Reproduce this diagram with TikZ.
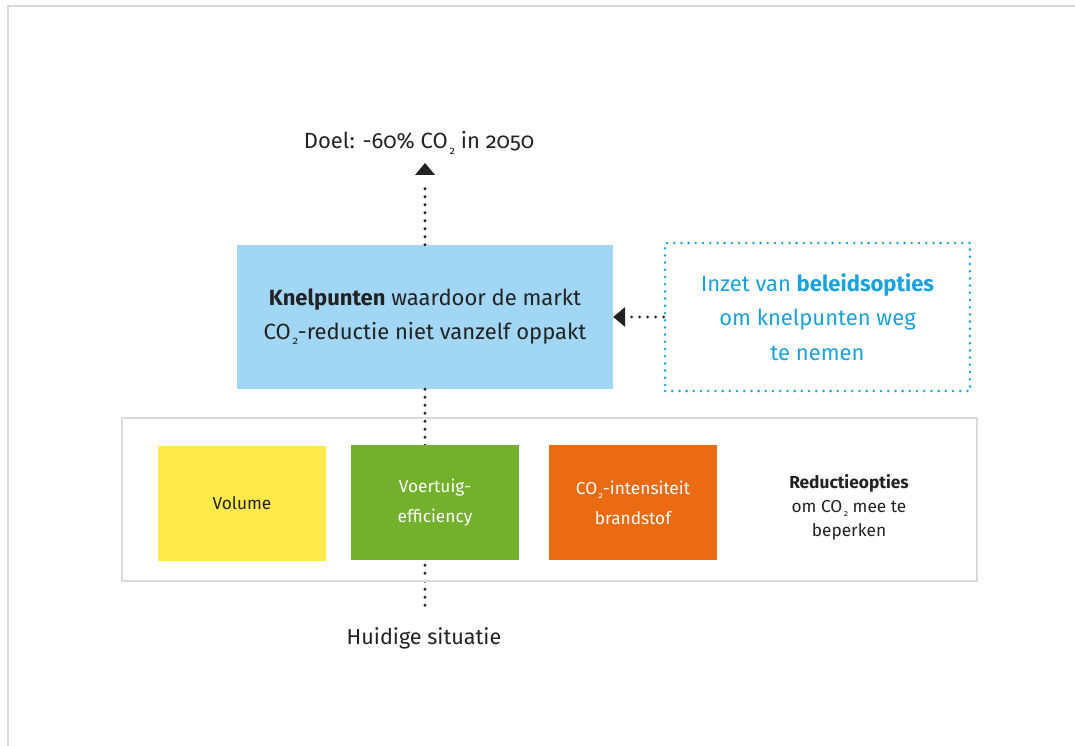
\documentclass[tikz,border=0pt]{standalone}
\usepackage{fontspec}
\usepackage{graphicx}
\setmainfont{Fira Sans}[Numbers=OldStyle]
\usetikzlibrary{arrows.meta}
\newcommand{\COt}{CO\kern0.08em\raisebox{-0.45ex}{\scalebox{0.5}{2}}}
\definecolor{txt}{HTML}{222222}
\definecolor{lblue}{HTML}{A1D6F4}
\definecolor{cyanx}{HTML}{1BA1DC}
\definecolor{yel}{HTML}{FEE94A}
\definecolor{grn}{HTML}{73B02B}
\definecolor{org}{HTML}{EA6B13}
\definecolor{frame}{HTML}{DADADA}
\tikzset{
  dotline/.style={draw=txt, line width=3.2pt, line cap=round, dash pattern=on 0pt off 8pt},
  colbox/.style={minimum width=168pt, minimum height=115pt, inner sep=0pt, align=center,
     font=\fontsize{17.3}{30}\selectfont},
  bigtext/.style={font=\fontsize{22}{34}\selectfont, align=center, text=txt},
}
\begin{document}
\begin{tikzpicture}[x=1pt,y=-1pt]
\useasboundingbox (0,0) rectangle (1075,746);
\fill[white] (0,0) rectangle (1075,746);
% outer frame (top and left)
\draw[frame, line width=1.2pt] (8,746) -- (8,6) -- (1075,6);

% goal and present
\node[bigtext, font=\fontsize{22}{25}\selectfont, inner sep=2pt] (goal) at (419,143) {Doel: -60\% \COt{} in 2050};
\node[bigtext, font=\fontsize{21.6}{25}\selectfont, inner sep=2pt] (situ) at (424,638) {Huidige situatie};

% blue box
\node[fill=lblue, minimum width=376pt, minimum height=144pt, inner sep=0pt, bigtext] (blue) at (425,317)
  {\textbf{Knelpunten} waardoor de markt\\\COt-reductie niet vanzelf oppakt};

% policy box
\node[draw=cyanx, line width=2.8pt, line cap=round, dash pattern=on 0pt off 7.2pt,
      minimum width=305pt, minimum height=148pt, inner sep=0pt, align=center,
      text=cyanx, font=\fontsize{22}{34.5}\selectfont] (pol) at (817.5,317)
  {Inzet van \textbf{beleidsopties}\\om knelpunten weg\\te nemen};

% connectors
\coordinate (gt) at (blue.north |- 0,163);
\draw[dotline] (blue.north) -- ([yshift=-18pt]gt);
\fill[txt] (gt) -- ++(-10,12) -- ++(20,0) -- cycle;
\draw[dotline] (blue.south) -- ([yshift=12pt]blue.south |- situ.north) coordinate (sitend);
\draw[dotline] (pol.west) -- ([xshift=12pt]blue.east) coordinate (poltip0);
\fill[txt] (blue.east) -- ++(12,-10) -- ++(0,20) -- cycle;

% reduction options frame
\node[draw=frame, line width=2pt, minimum width=855pt, minimum height=163pt, inner sep=0pt] (red) at (549.5,499.5) {};
\node[colbox, fill=yel, text=txt] (vol) at (242,503.5) {Volume};
\node[colbox, fill=grn, text=white] (veh) at (435,502.5) {Voertuig-\\efficiency};
\node[colbox, fill=org, text=white] (fuel) at (633,502.5) {\COt-intensiteit\\brandstof};
\node[align=center, text=txt, font=\fontsize{17.3}{24}\selectfont] (opt) at (849,507)
  {\textbf{Reductieopties}\\om \COt{} mee te\\beperken};
\end{tikzpicture}
\end{document}
